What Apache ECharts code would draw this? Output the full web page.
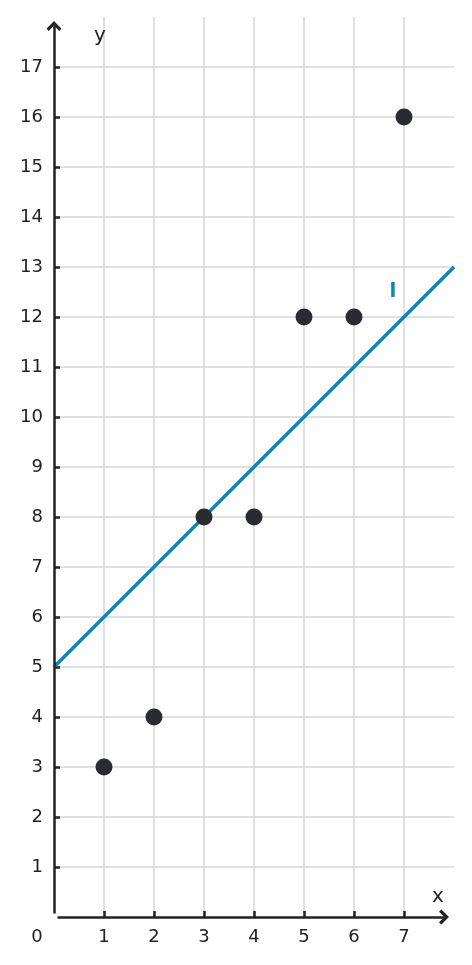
<!DOCTYPE html>
<html><head><meta charset="utf-8">
<script src="https://cdn.jsdelivr.net/npm/echarts@6/dist/echarts.min.js"></script>
<style>html,body{margin:0;padding:0;background:#fff}#c{width:472px;height:965px}</style>
</head><body><div id="c"></div>
<script>
const pointsX = [1, 2, 3, 4, 5, 6, 7];
const pointsY = [3, 4, 8, 8, 12, 12, 16];
const lineX = [0, 8];
const lineY = [5, 13];
const xTicks = [1, 2, 3, 4, 5, 6, 7];
const xLabels = [0, 1, 2, 3, 4, 5, 6, 7];
const yTicks = [1, 2, 3, 4, 5, 6, 7, 8, 9, 10, 11, 12, 13, 14, 15, 16, 17];
const axisStart = 0.07;
const xAxisEnd = 7.8;
const yAxisEnd = 17.82;
const annotText = ['y', 'x', 'l'];
const annotX = [0.92, 7.68, 6.78];
const annotY = [17.62, 0.4, 12.5];

const chart = echarts.init(document.getElementById('c'));
const FONT = 'DejaVu Sans';
const INK = '#222';
const BLUE = '#0a86be';
const chevron = 'path://M0,10 L10,0 L20,10 L17,13 L10,6 L3,13 Z';
chart.setOption({
  animation: false,
  grid: {left: 54, right: 18, top: 17, bottom: 48},
  xAxis: {
    type: 'value', min: 0, max: 8, interval: 1,
    axisLine: {show: false, onZero: false},
    axisTick: {show: true, inside: true, length: 6, customValues: xTicks, lineStyle: {color: INK, width: 2.5}},
    axisLabel: {
      margin: 11, color: INK, fontFamily: FONT, fontSize: 18,
      customValues: xLabels,
      formatter: v => v === 0 ? '{z|0}' : String(v),
      rich: {z: {padding: [0, 34, 0, 0], fontFamily: FONT, fontSize: 18, color: INK}}
    },
    splitLine: {show: true, lineStyle: {color: '#d6d6d6', width: 1.5}}
  },
  yAxis: {
    type: 'value', min: 0, max: 18, interval: 1,
    axisLine: {show: false, onZero: false},
    axisTick: {show: true, inside: true, length: 6, customValues: yTicks, lineStyle: {color: INK, width: 2.5}},
    axisLabel: {
      margin: 11, color: INK, fontFamily: FONT, fontSize: 18,
      customValues: yTicks,
      formatter: v => String(v)
    },
    splitLine: {show: true, lineStyle: {color: '#d6d6d6', width: 1.5}}
  },
  series: [
    {
      type: 'line', data: lineX.map((x, i) => [x, lineY[i]]),
      showSymbol: false, lineStyle: {color: BLUE, width: 3.5}, z: 3, clip: false,
      markLine: {
        silent: true, animation: false,
        symbol: ['none', chevron], symbolSize: [15, 10],
        label: {show: false},
        lineStyle: {color: INK, width: 2.5, type: 'solid'},
        emphasis: {disabled: true},
        data: [
          [{coord: [axisStart, 0]}, {coord: [xAxisEnd, 0]}],
          [{coord: [0, axisStart]}, {coord: [0, yAxisEnd]}]
        ]
      }
    },
    {
      type: 'scatter', data: pointsX.map((x, i) => [x, pointsY[i]]),
      symbolSize: 17, itemStyle: {color: '#2a2b30', opacity: 1}, z: 4
    },
    {
      type: 'scatter', symbolSize: 0, silent: true,
      itemStyle: {opacity: 1},
      data: annotText.map((t, i) => ({value: [annotX[i], annotY[i]], name: t})),
      label: {
        show: true, position: 'inside', formatter: p => p.name,
        fontFamily: FONT, fontSize: 20, color: INK
      },
      labelLayout: {hideOverlap: false},
      z: 5
    }
  ]
});
const opt = chart.getOption();
const d = opt.series[2].data.map(o => o.name === 'l' ? Object.assign({}, o, {label: {color: BLUE, fontWeight: 'bold', fontSize: 20}}) : o);
chart.setOption({series: [{}, {}, {data: d}]});
</script></body></html>
